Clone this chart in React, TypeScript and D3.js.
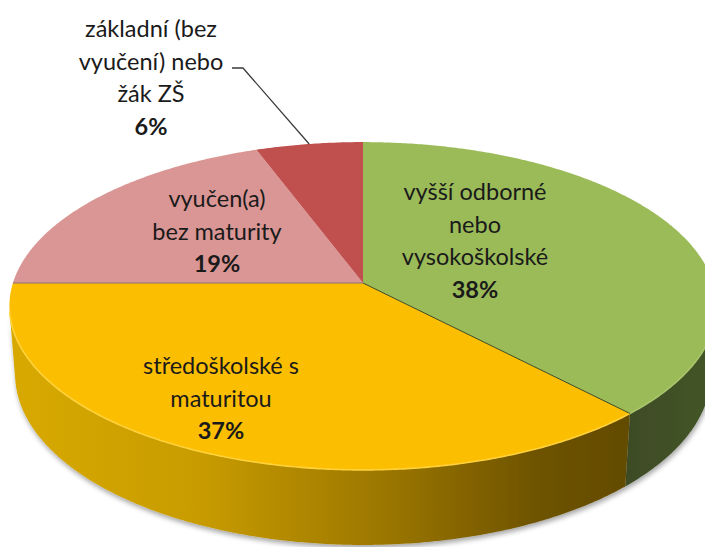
import React from "react";
import * as d3 from "d3";

const categories = [
  "vyšší odborné nebo vysokoškolské",
  "středoškolské s maturitou",
  "vyučen(a) bez maturity",
  "základní (bez vyučení) nebo žák ZŠ",
];
const values = [38.0, 37.0, 19.4, 5.6];
const labelLines = [
  ["vyšší odborné", "nebo", "vysokoškolské"],
  ["středoškolské s", "maturitou"],
  ["vyučen(a)", "bez maturity"],
  ["základní (bez", "vyučení) nebo", "žák ZŠ"],
];
const topColors = ["#9BBB59", "#FCBE00", "#D99694", "#C0504D"];

// layout
const W = 705, H = 547;
const CX = 363, CY = 283;
const D = 6.33, SIN = 0.459, COS = 0.888, K = 2216, DEPTH = 0.221;
const labelAnchors = [
  [475, 192],
  [221, 366],
  [217, 199],
  [151, 29],
];
const LINE_H = 32.5;
const FONT = "Lato, 'Open Sans', sans-serif";
const FS = 23.5;

function proj(psi: number, y: number): [number, number] {
  const x = Math.sin(psi);
  const z = -Math.cos(psi);
  const yc = y * COS - z * SIN;
  const d = D - (z * COS + y * SIN);
  return [CX + (K * x) / d, CY - (K * yc) / d];
}

function arcPts(a0: number, a1: number, y: number) {
  const n = Math.max(2, Math.ceil(Math.abs(a1 - a0) / (Math.PI / 360)));
  const pts: [number, number][] = [];
  for (let i = 0; i <= n; i++) pts.push(proj(a0 + ((a1 - a0) * i) / n, y));
  return pts;
}

export default function App() {
  const pie = d3.pie<number>().sort(null).value((d) => d);
  const arcs = pie(values);
  const line = d3.line();
  const psiMin = Math.acos(-1 / (D * COS));
  const psiMax = 2 * Math.PI - psiMin;

  const walls = arcs
    .map((a, i) => {
      const a0 = Math.max(a.startAngle, psiMin);
      const a1 = Math.min(a.endAngle, psiMax);
      if (a1 <= a0) return null;
      const top = arcPts(a0, a1, 0);
      const bot = arcPts(a1, a0, -DEPTH);
      return { i, d: line([...top, ...bot])! + "Z", rim: line(top)! };
    })
    .filter(Boolean) as { i: number; d: string; rim: string }[];

  const tops = arcs.map((a, i) => {
    const pts = [[CX, CY] as [number, number], ...arcPts(a.startAngle, a.endAngle, 0)];
    return { i, d: line(pts)! + "Z" };
  });

  const wallFill = ["url(#gWall)", "url(#yWall)", "#A66F6E", "#8A3936"];
  const rimColor = ["#A9C56C", "#FFD23C", "#E3AAA8", "#CC6663"];

  const fmt = (v: number) => `${Math.round(v)}%`;

  const greenYellow = proj(arcs[0].endAngle, 0);
  const yellowPink = proj(arcs[1].endAngle, 0);

  return (
    <svg width={W} height={H} style={{ position: "absolute", left: 0, top: 0 }}>
      <defs>
        <linearGradient id="yWall" gradientUnits="userSpaceOnUse" x1={12} y1={0} x2={630} y2={0}>
          <stop offset="0" stopColor="#D8A900" />
          <stop offset="0.3" stopColor="#C89C00" />
          <stop offset="0.6" stopColor="#9C7700" />
          <stop offset="0.85" stopColor="#6E5300" />
          <stop offset="1" stopColor="#634B00" />
        </linearGradient>
        <linearGradient id="gWall" gradientUnits="userSpaceOnUse" x1={620} y1={0} x2={705} y2={0}>
          <stop offset="0" stopColor="#3D4B24" />
          <stop offset="1" stopColor="#435428" />
        </linearGradient>
        <filter id="shadow" x="-10%" y="-10%" width="120%" height="130%">
          <feDropShadow dx="1" dy="3" stdDeviation="2.5" floodColor="#000" floodOpacity="0.35" />
        </filter>
      </defs>
      <g filter="url(#shadow)">
        {walls.map((w) => (
          <path key={w.i} d={w.d} fill={wallFill[w.i]} />
        ))}
      </g>
      <g>
        {tops.map((t) => (
          <path key={t.i} d={t.d} fill={topColors[t.i]} />
        ))}
        {walls.map((w) => (
          <path key={"r" + w.i} d={w.rim} fill="none" stroke={rimColor[w.i]} strokeWidth={1.6} />
        ))}
        <line x1={CX} y1={CY} x2={greenYellow[0]} y2={greenYellow[1]} stroke="#3B4A22" strokeWidth={1} />
        <line x1={CX} y1={CY} x2={yellowPink[0]} y2={yellowPink[1]} stroke="#8C6F7C" strokeWidth={1} />
      </g>
      {(() => {
        const a = arcs[3];
        const mid = (a.startAngle + a.endAngle) / 2;
        const p = proj(mid, 0);
        return (
          <polyline
            points={`${232},${68} ${243},${68} ${p[0]},${p[1]}`}
            fill="none"
            stroke="#3A3A3A"
            strokeWidth={1.3}
          />
        );
      })()}
      {arcs.map((a, i) => {
        const [x, y0] = labelAnchors[i];
        const lines = labelLines[i];
        return (
          <text key={i} x={x} textAnchor="middle" fontFamily={FONT} fontSize={FS} fill="#1A1A1A">
            {lines.map((l, j) => (
              <tspan key={j} x={x} y={y0 + j * LINE_H + FS * 0.35}>
                {l}
              </tspan>
            ))}
            <tspan x={x} y={y0 + lines.length * LINE_H + FS * 0.35} fontWeight="bold">
              {fmt(a.data)}
            </tspan>
          </text>
        );
      })}
    </svg>
  );
}
